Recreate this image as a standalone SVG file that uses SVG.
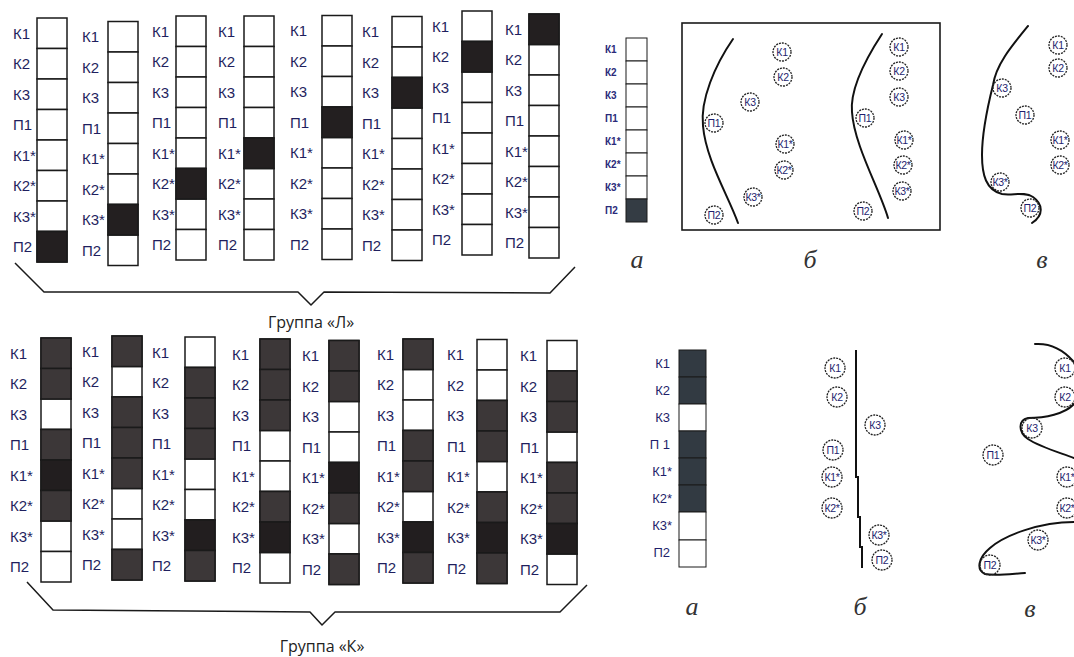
<svg xmlns="http://www.w3.org/2000/svg" xmlns:xlink="http://www.w3.org/1999/xlink" width="1074" height="657" viewBox="0 0 1074 657">
<style>
.d{fill:#231f20;stroke:#1a1a1a;stroke-width:1.5}
.g{fill:#3c3738;stroke:#1a1a1a;stroke-width:1.5}
.k{fill:#221e1f;stroke:#1a1a1a;stroke-width:1.5}
.s{fill:#343c44;stroke:#1a1a1a;stroke-width:1}
.sb{fill:#323a42;stroke:#1a1a1a;stroke-width:1}
.w2{fill:#fff;stroke:#1a1a1a;stroke-width:1}
.br{fill:none;stroke:#1a1a1a;stroke-width:1.5;stroke-linejoin:round}
.cv{fill:none;stroke:#111;stroke-width:2;stroke-linecap:round}
.cir{fill:none;stroke:#222;stroke-width:1.3;stroke-dasharray:2 1}
.ct{font-family:"Liberation Sans",Arial,sans-serif;font-size:10.5px;fill:#1e1e6e;text-anchor:middle;letter-spacing:-0.3px}
.sl{font-family:"Liberation Sans",Arial,sans-serif;font-size:10px;font-weight:bold;fill:#2b2b7a}
.ml{font-family:"Liberation Sans",Arial,sans-serif;font-size:13px;fill:#1f1f6b;text-anchor:end}
.gt{font-family:"Open Sans",sans-serif;font-size:16px;fill:#222;text-anchor:middle}
.it{font-family:"Liberation Serif","Times New Roman",serif;font-style:italic;font-size:26px;fill:#333;text-anchor:middle}
</style>
<defs>
<g id="col" fill="#fff" stroke="#1a1a1a" stroke-width="1.5">
<rect y="0" width="30" height="30.5"/><rect y="30.5" width="30" height="30.5"/><rect y="61" width="30" height="30.5"/><rect y="91.5" width="30" height="30.5"/><rect y="122" width="30" height="30.5"/><rect y="152.5" width="30" height="30.5"/><rect y="183" width="30" height="30.5"/><rect y="213.5" width="30" height="30.5"/>
</g>
<g id="lab" font-family="Liberation Sans, Arial, sans-serif" font-size="15" fill="#1f1f5e">
<text y="20.75">К1</text><text y="51.25">К2</text><text y="81.75">К3</text><text y="112.25">П1</text><text y="142.75">К1*</text><text y="173.25">К2*</text><text y="203.75">К3*</text><text y="234.25">П2</text>
</g>
</defs>
<rect width="1074" height="657" fill="#fff"/>

<!-- Group L -->
<g id="T1" transform="translate(37,18)"><use xlink:href="#col"/><use xlink:href="#lab" x="-24"/><rect class="d" y="213.5" width="30" height="30.5"/></g>
<g id="T2" transform="translate(108,21.5)"><use xlink:href="#col"/><use xlink:href="#lab" x="-26"/><rect class="d" y="183" width="30" height="30.5"/></g>
<g id="T3" transform="translate(176,16)"><use xlink:href="#col"/><use xlink:href="#lab" x="-24"/><rect class="d" y="152.5" width="30" height="30.5"/></g>
<g id="T4" transform="translate(244,16)"><use xlink:href="#col"/><use xlink:href="#lab" x="-26"/><rect class="d" y="122" width="30" height="30.5"/></g>
<g id="T5" transform="translate(322,15.5)"><use xlink:href="#col"/><use xlink:href="#lab" x="-32"/><rect class="d" y="91.5" width="30" height="30.5"/></g>
<g id="T6" transform="translate(392,16.5)"><use xlink:href="#col"/><use xlink:href="#lab" x="-30"/><rect class="d" y="61" width="30" height="30.5"/></g>
<g id="T7" transform="translate(462,11)"><use xlink:href="#col"/><use xlink:href="#lab" x="-30"/><rect class="d" y="30.5" width="30" height="30.5"/></g>
<g id="T8" transform="translate(529,14)"><use xlink:href="#col"/><use xlink:href="#lab" x="-24"/><rect class="d" y="0" width="30" height="30.5"/></g>

<!-- Group K -->
<g id="B1" transform="translate(41,338)"><use xlink:href="#col"/><use xlink:href="#lab" x="-31"/>
<rect class="g" y="0" width="30" height="30.5"/><rect class="g" y="30.5" width="30" height="30.5"/><rect class="g" y="91.5" width="30" height="30.5"/><rect class="k" y="122" width="30" height="30.5"/><rect class="g" y="152.5" width="30" height="30.5"/></g>
<g id="B2" transform="translate(112,336)"><use xlink:href="#col"/><use xlink:href="#lab" x="-30"/>
<rect class="g" y="0" width="30" height="30.5"/><rect class="g" y="61" width="30" height="30.5"/><rect class="g" y="91.5" width="30" height="30.5"/><rect class="g" y="122" width="30" height="30.5"/><rect class="g" y="213.5" width="30" height="30.5"/></g>
<g id="B3" transform="translate(185,337)"><use xlink:href="#col"/><use xlink:href="#lab" x="-33"/>
<rect class="g" y="30.5" width="30" height="30.5"/><rect class="g" y="61" width="30" height="30.5"/><rect class="g" y="91.5" width="30" height="30.5"/><rect class="k" y="183" width="30" height="30.5"/><rect class="g" y="213.5" width="30" height="30.5"/></g>
<g id="B4" transform="translate(260,339)"><use xlink:href="#col"/><use xlink:href="#lab" x="-28"/>
<rect class="g" y="0" width="30" height="30.5"/><rect class="g" y="30.5" width="30" height="30.5"/><rect class="g" y="61" width="30" height="30.5"/><rect class="g" y="152.5" width="30" height="30.5"/><rect class="k" y="183" width="30" height="30.5"/></g>
<g id="B5" transform="translate(329,340.5)"><use xlink:href="#col"/><use xlink:href="#lab" x="-27"/>
<rect class="g" y="0" width="30" height="30.5"/><rect class="g" y="30.5" width="30" height="30.5"/><rect class="k" y="122" width="30" height="30.5"/><rect class="g" y="152.5" width="30" height="30.5"/><rect class="g" y="213.5" width="30" height="30.5"/></g>
<g id="B6" transform="translate(403,339)"><use xlink:href="#col"/><use xlink:href="#lab" x="-26"/>
<rect class="g" y="0" width="30" height="30.5"/><rect class="g" y="91.5" width="30" height="30.5"/><rect class="g" y="122" width="30" height="30.5"/><rect class="k" y="183" width="30" height="30.5"/><rect class="g" y="213.5" width="30" height="30.5"/></g>
<g id="B7" transform="translate(477,339.5)"><use xlink:href="#col"/><use xlink:href="#lab" x="-30"/>
<rect class="g" y="61" width="30" height="30.5"/><rect class="g" y="91.5" width="30" height="30.5"/><rect class="g" y="152.5" width="30" height="30.5"/><rect class="k" y="183" width="30" height="30.5"/><rect class="g" y="213.5" width="30" height="30.5"/></g>
<g id="B8" transform="translate(547,340.5)"><use xlink:href="#col"/><use xlink:href="#lab" x="-27"/>
<rect class="g" y="30.5" width="30" height="30.5"/><rect class="g" y="61" width="30" height="30.5"/><rect class="g" y="122" width="30" height="30.5"/><rect class="g" y="152.5" width="30" height="30.5"/><rect class="k" y="183" width="30" height="30.5"/></g>

<!-- braces and group captions -->
<g id="braces">
<path class="br" d="M15,263 L44,292 L298,292 L311,305 L324,292 L550,293 L575,267"/>
<path class="br" d="M27,582 L53,610 L310,612 L322,625 L335,612 L560,612 L587,585"/>
</g>
<text class="gt" x="311" y="328">Группа «Л»</text>
<text class="gt" x="322" y="652">Группа «К»</text>

<!-- top right: a -->
<g id="TA">
<rect class="w2" x="626" y="38" width="21" height="23"/><rect class="w2" x="626" y="61" width="21" height="23"/><rect class="w2" x="626" y="84" width="21" height="23"/><rect class="w2" x="626" y="107" width="21" height="23"/><rect class="w2" x="626" y="130" width="21" height="23"/><rect class="w2" x="626" y="153" width="21" height="23"/><rect class="w2" x="626" y="176" width="21" height="23"/><rect class="s" x="626" y="199" width="21" height="23"/>
<text class="sl" x="605" y="53">К1</text><text class="sl" x="605" y="76">К2</text><text class="sl" x="605" y="99">К3</text><text class="sl" x="605" y="122">П1</text><text class="sl" x="605" y="145">К1*</text><text class="sl" x="605" y="168">К2*</text><text class="sl" x="605" y="191">К3*</text><text class="sl" x="605" y="214">П2</text>
</g>
<text class="it" x="637" y="268">а</text>

<!-- top right: b -->
<g id="TB">
<rect x="682" y="23" width="258" height="207" fill="none" stroke="#1a1a1a" stroke-width="1.6"/>
<path class="cv" d="M733,39 C715,65 700,100 703,126 C706,160 728,195 738,223"/>
<path class="cv" d="M882,34 C865,60 850,90 852,112 C854,145 880,190 888,218"/>
<circle class="cir" cx="782" cy="52" r="9"/><text class="ct" x="782" y="56">К1</text>
<circle class="cir" cx="783" cy="77" r="9"/><text class="ct" x="783" y="81">К2</text>
<circle class="cir" cx="750" cy="102" r="9"/><text class="ct" x="750" y="106">К3</text>
<circle class="cir" cx="714" cy="123" r="9"/><text class="ct" x="714" y="127">П1</text>
<circle class="cir" cx="785" cy="144" r="9"/><text class="ct" x="785" y="148">К1*</text>
<circle class="cir" cx="784" cy="170" r="9"/><text class="ct" x="784" y="174">К2*</text>
<circle class="cir" cx="753" cy="197" r="9"/><text class="ct" x="753" y="201">К3*</text>
<circle class="cir" cx="714" cy="215" r="9"/><text class="ct" x="714" y="219">П2</text>
<circle class="cir" cx="899" cy="47" r="9"/><text class="ct" x="899" y="51">К1</text>
<circle class="cir" cx="899" cy="71" r="9"/><text class="ct" x="899" y="75">К2</text>
<circle class="cir" cx="899" cy="97" r="9"/><text class="ct" x="899" y="101">К3</text>
<circle class="cir" cx="865" cy="118" r="9"/><text class="ct" x="865" y="122">П1</text>
<circle class="cir" cx="904" cy="140" r="9"/><text class="ct" x="904" y="144">К1*</text>
<circle class="cir" cx="903" cy="165" r="9"/><text class="ct" x="903" y="169">К2*</text>
<circle class="cir" cx="902" cy="191" r="9"/><text class="ct" x="902" y="195">К3*</text>
<circle class="cir" cx="863" cy="211" r="9"/><text class="ct" x="863" y="215">П2</text>
</g>
<text class="it" x="810" y="268">б</text>

<!-- top right: v -->
<g id="TV">
<path class="cv" d="M1028,26 C1010,48 996,65 993,85 C988,105 982,130 982,155 C982,175 986,190 1002,194 C1012,196 1024,191 1033,197 C1043,204 1044,215 1032,223"/>
<circle class="cir" cx="1058" cy="45" r="9"/><text class="ct" x="1058" y="49">К1</text>
<circle class="cir" cx="1058" cy="68" r="9"/><text class="ct" x="1058" y="72">К2</text>
<circle class="cir" cx="1002" cy="88" r="9"/><text class="ct" x="1002" y="92">К3</text>
<circle class="cir" cx="1025" cy="115" r="9"/><text class="ct" x="1025" y="119">П1</text>
<circle class="cir" cx="1060" cy="140" r="9"/><text class="ct" x="1060" y="144">К1*</text>
<circle class="cir" cx="1060" cy="165" r="9"/><text class="ct" x="1060" y="169">К2*</text>
<circle class="cir" cx="1000" cy="182" r="9"/><text class="ct" x="1000" y="186">К3*</text>
<circle class="cir" cx="1030" cy="208" r="9"/><text class="ct" x="1030" y="212">П2</text>
</g>
<text class="it" x="1042" y="268">в</text>

<!-- bottom right: a -->
<g id="BA">
<rect class="sb" x="679" y="350" width="27" height="27"/><rect class="sb" x="679" y="377" width="27" height="27"/><rect class="w2" x="679" y="404" width="27" height="27"/><rect class="sb" x="679" y="431" width="27" height="27"/><rect class="sb" x="679" y="458" width="27" height="27"/><rect class="sb" x="679" y="485" width="27" height="27"/><rect class="w2" x="679" y="512" width="27" height="28"/><rect class="w2" x="679" y="540" width="27" height="27"/>
<text class="ml" x="670" y="368">К1</text><text class="ml" x="670" y="395">К2</text><text class="ml" x="670" y="422">К3</text><text class="ml" x="670" y="449">П 1</text><text class="ml" x="672" y="476">К1*</text><text class="ml" x="672" y="503">К2*</text><text class="ml" x="672" y="530">К3*</text><text class="ml" x="670" y="557">П2</text>
</g>
<text class="it" x="692" y="615">а</text>

<!-- bottom right: b -->
<g id="BB">
<polyline class="cv" points="856,350 856,477 858,477 858,517 860,517 860,547 862,547 862,568" style="stroke-linecap:butt"/>
<circle class="cir" cx="835" cy="368" r="10"/><text class="ct" x="835" y="372">К1</text>
<circle class="cir" cx="837" cy="397" r="10"/><text class="ct" x="837" y="401">К2</text>
<circle class="cir" cx="875" cy="425" r="10"/><text class="ct" x="875" y="429">К3</text>
<circle class="cir" cx="833" cy="450" r="10"/><text class="ct" x="833" y="454">П1</text>
<circle class="cir" cx="832" cy="477" r="10"/><text class="ct" x="832" y="481">К1*</text>
<circle class="cir" cx="832" cy="508" r="10"/><text class="ct" x="832" y="512">К2*</text>
<circle class="cir" cx="879" cy="535" r="10"/><text class="ct" x="879" y="539">К3*</text>
<circle class="cir" cx="882" cy="560" r="10"/><text class="ct" x="882" y="564">П2</text>
</g>
<text class="it" x="860" y="615">б</text>

<!-- bottom right: v -->
<g id="BV">
<path class="cv" d="M1035,344 C1050,343 1062,348 1074,362"/>
<path class="cv" d="M1074,404 C1065,414 1045,418 1028,418 C1018,420 1018,432 1028,439 C1040,447 1058,452 1074,458"/>
<path class="cv" d="M1074,522 C1040,522 1005,535 990,548 C978,558 976,570 985,574 C995,576 1010,574 1025,573"/>
<circle class="cir" cx="1065" cy="368" r="10"/><text class="ct" x="1065" y="372">К1</text>
<circle class="cir" cx="1065" cy="397" r="10"/><text class="ct" x="1065" y="401">К2</text>
<circle class="cir" cx="1032" cy="428" r="10"/><text class="ct" x="1032" y="432">К3</text>
<circle class="cir" cx="993" cy="455" r="10"/><text class="ct" x="993" y="459">П1</text>
<circle class="cir" cx="1067" cy="477" r="10"/><text class="ct" x="1067" y="481">К1*</text>
<circle class="cir" cx="1067" cy="508" r="10"/><text class="ct" x="1067" y="512">К2*</text>
<circle class="cir" cx="1038" cy="540" r="10"/><text class="ct" x="1038" y="544">К3*</text>
<circle class="cir" cx="990" cy="565" r="10"/><text class="ct" x="990" y="569">П2</text>
</g>
<text class="it" x="1030" y="617">в</text>
</svg>
